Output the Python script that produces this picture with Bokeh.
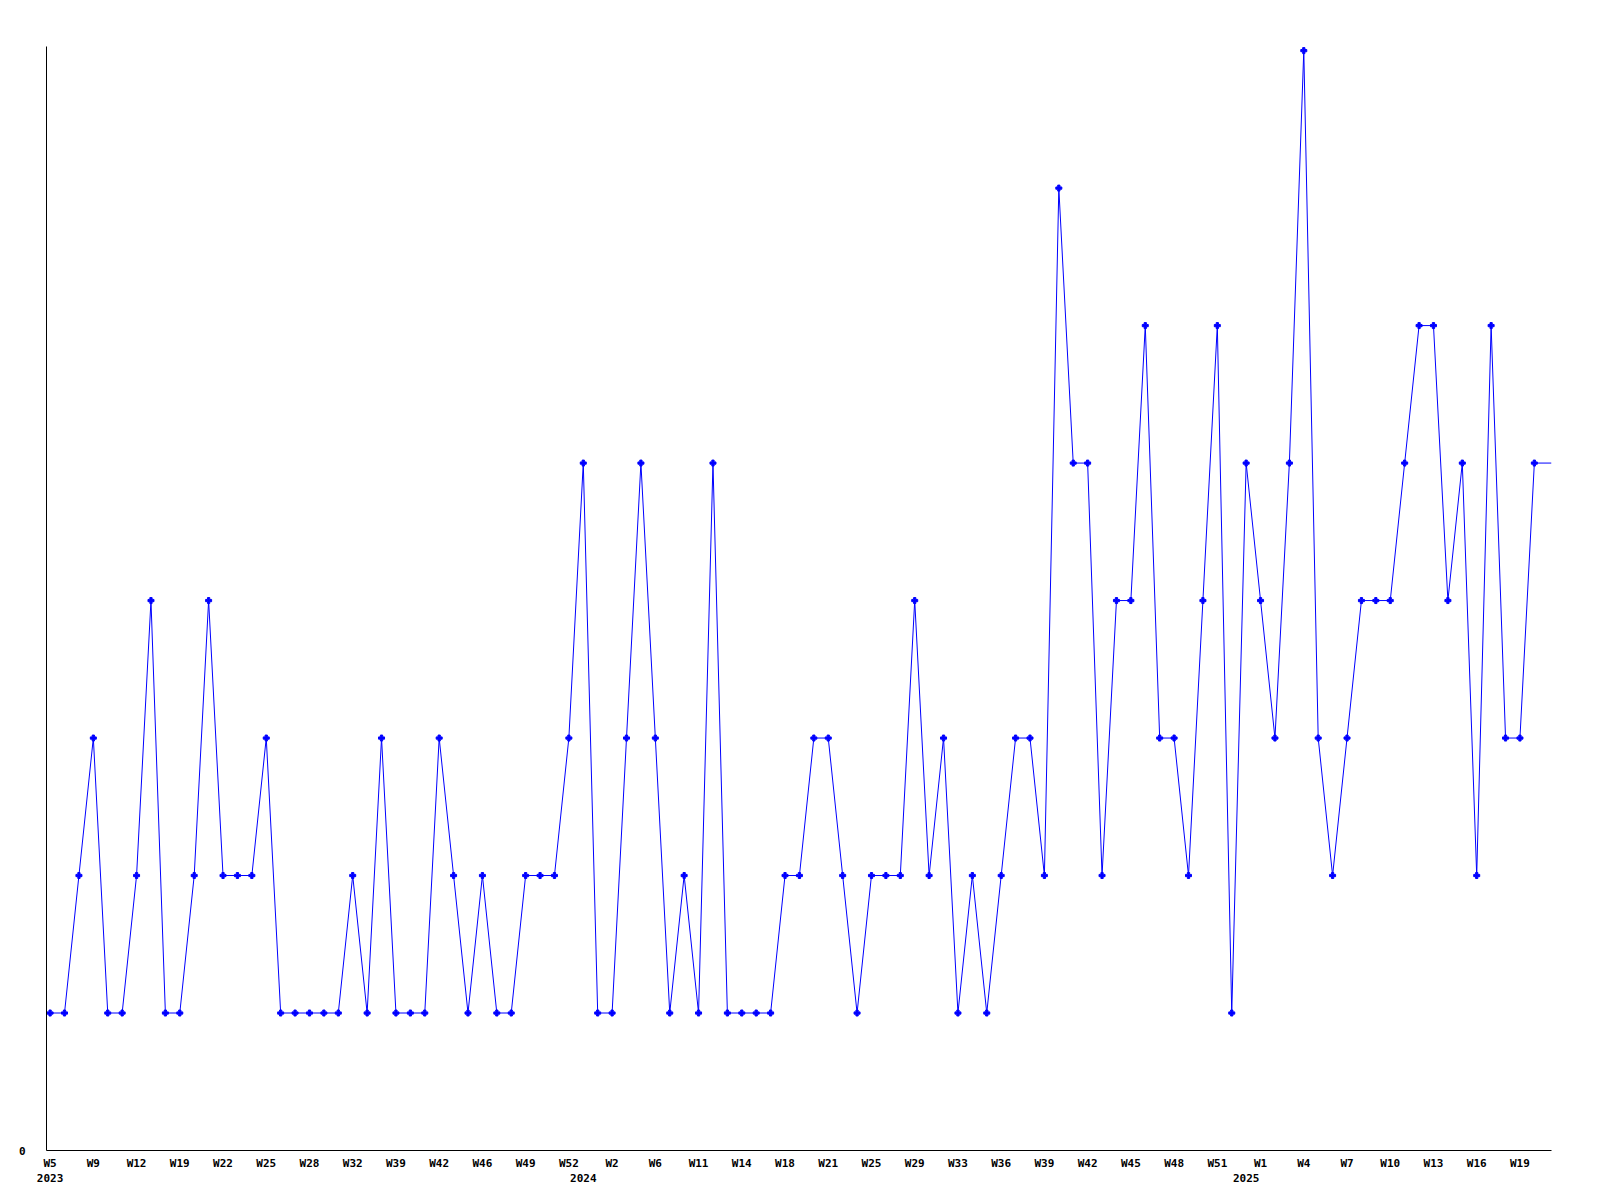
from bokeh.plotting import figure
from bokeh.models import Range1d, FixedTicker, LinearAxis
from bokeh.embed import file_html
from bokeh.resources import INLINE

# ---- data ----
values = [1, 1, 2, 3, 1, 1, 2, 4, 1, 1, 2, 4, 2, 2, 2, 3, 1, 1, 1, 1,
          1, 2, 1, 3, 1, 1, 1, 3, 2, 1, 2, 1, 1, 2, 2, 2, 3, 5, 1, 1,
          3, 5, 3, 1, 2, 1, 5, 1, 1, 1, 1, 2, 2, 3, 3, 2, 1, 2, 2, 2,
          4, 2, 3, 1, 2, 1, 2, 3, 3, 2, 7, 5, 5, 2, 4, 4, 6, 3, 3, 2,
          4, 6, 1, 5, 4, 3, 5, 8, 3, 2, 3, 4, 4, 4, 5, 6, 6, 4, 5, 2,
          6, 3, 3, 5]
week_labels = ["W5", "W9", "W12", "W19", "W22", "W25", "W28", "W32", "W39",
               "W42", "W46", "W49", "W52", "W2", "W6", "W11", "W14", "W18",
               "W21", "W25", "W29", "W33", "W36", "W39", "W42", "W45", "W48",
               "W51", "W1", "W4", "W7", "W10", "W13", "W16", "W19"]
year_labels = ["2023", "2024", "2025"]
year_start_index = [0, 37, 83]

n = len(values)
xs = list(range(n))
x_end = n - 1 + 1.19

FONT = "DejaVu Sans Mono"

p = figure(output_backend="svg", toolbar_location=None,
           frame_width=1505, frame_height=1104,
           min_border_left=46, min_border_top=46,
           min_border_right=33, min_border_bottom=40,
           x_range=Range1d(-0.25, x_end), y_range=Range1d(0, 8.03),
           x_axis_location=None, y_axis_location=None)
p.outline_line_color = None
p.grid.visible = False
p.background_fill_color = "white"
p.border_fill_color = "white"

# line extended to the right edge with the last value
p.line(xs + [x_end], values + [values[-1]], line_color="#0000ff", line_width=1)
p.scatter(xs, values, marker="plus", size=6, fill_color="#0000ff",
          line_color="#0000ff")

# x axis: week labels every third point
tick_idx = list(range(0, n, 3))[:len(week_labels)]
xa = LinearAxis(ticker=FixedTicker(ticks=tick_idx))
xa.major_label_overrides = {i: lab for i, lab in zip(tick_idx, week_labels)}
xa.axis_line_color = "black"
xa.axis_line_width = 1
xa.major_tick_in = 0
xa.major_tick_out = 0
xa.minor_tick_line_color = None
xa.major_label_standoff = 6
xa.major_label_text_font = FONT
xa.major_label_text_font_style = "bold"
xa.major_label_text_font_size = "11px"
xa.major_label_text_color = "black"
p.add_layout(xa, "below")

# second row: year labels
ya2 = LinearAxis(ticker=FixedTicker(ticks=year_start_index))
ya2.major_label_overrides = {i: lab for i, lab in zip(year_start_index, year_labels)}
ya2.axis_line_color = None
ya2.major_tick_line_color = None
ya2.minor_tick_line_color = None
ya2.major_tick_in = 0
ya2.major_tick_out = 0
ya2.major_label_standoff = 1
ya2.major_label_text_font = FONT
ya2.major_label_text_font_style = "bold"
ya2.major_label_text_font_size = "11px"
ya2.major_label_text_color = "black"
p.add_layout(ya2, "below")

# y axis: only 0
yax = LinearAxis(ticker=FixedTicker(ticks=[0]))
yax.axis_line_color = "black"
yax.axis_line_width = 1
yax.major_tick_in = 0
yax.major_tick_out = 0
yax.minor_tick_line_color = None
yax.major_label_standoff = 21
yax.major_label_text_font = FONT
yax.major_label_text_font_style = "bold"
yax.major_label_text_font_size = "11px"
yax.major_label_text_color = "black"
p.add_layout(yax, "left")

open("out.html", "w").write(file_html(p, INLINE))
